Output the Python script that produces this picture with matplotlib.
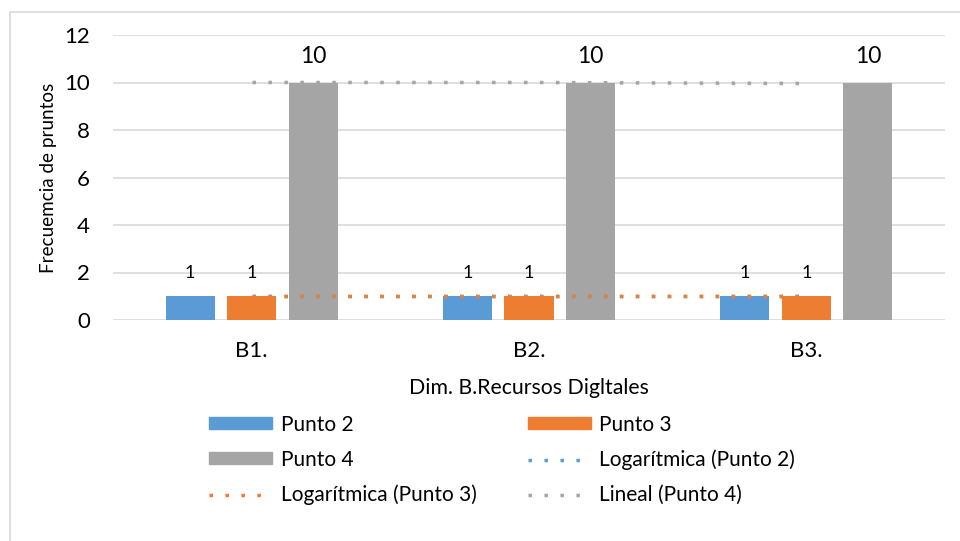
import matplotlib
matplotlib.use("Agg")
import matplotlib.pyplot as plt
from matplotlib.patches import Rectangle
from matplotlib.lines import Line2D
import numpy as np

plt.rcParams['font.family'] = ['Lato', 'DejaVu Sans']

categories = ["B1.", "B2.", "B3."]
punto2 = [1, 1, 1]
punto3 = [1, 1, 1]
punto4 = [10, 10, 10]
y_ticks = [0, 2, 4, 6, 8, 10, 12]

c_blue = "#5b9bd5"
c_orange = "#ed7d31"
c_gray = "#a5a5a5"
c_grid = "#d9d9d9"
c_text = "#000000"

fig = plt.figure(figsize=(9.6, 5.41), dpi=100)
ax = fig.add_axes([113 / 960, 1 - 320 / 541, (945 - 113) / 960, (320 - 35) / 541])

# chart outline
fig.patches.append(Rectangle((10 / 960, -0.1), 1.2, 1 - 12 / 541 + 0.1,
                             transform=fig.transFigure, fill=False,
                             edgecolor=c_grid, linewidth=1.2, zorder=0))

x = np.arange(len(categories))
w = 0.177
off = 0.222

b2 = ax.bar(x - off, punto2, w, color=c_blue, zorder=3)
b3 = ax.bar(x, punto3, w, color=c_orange, zorder=3)
b4 = ax.bar(x + off, punto4, w, color=c_gray, zorder=3)

# trendlines across category centres
def log_fit(vals):
    xs = np.arange(1, len(vals) + 1)
    a, b = np.polyfit(np.log(xs), vals, 1)
    return a * np.log(xs) + b

def lin_fit(vals):
    xs = np.arange(1, len(vals) + 1)
    a, b = np.polyfit(xs, vals, 1)
    return a * xs + b

dot = dict(linestyle=(0, (1, 3.6)), linewidth=2.5, dash_capstyle='butt', zorder=4)
ax.plot(x, log_fit(punto2), color=c_blue, **dot)
ax.plot(x, log_fit(punto3), color=c_orange, **dot)
ax.plot(x, lin_fit(punto4), color=c_gray, **dot)

for bars, vals, fs, pad in [(b2, punto2, 13, 23), (b3, punto3, 13, 23), (b4, punto4, 16.5, 26)]:
    for r, v in zip(bars, vals):
        ax.annotate(f"{v}", (r.get_x() + r.get_width() / 2, v), xytext=(0, pad),
                    textcoords="offset pixels", ha="center", va="center",
                    fontsize=fs, color=c_text)

ax.set_xlim(-0.5, len(categories) - 0.5)
ax.set_ylim(0, 12)
ax.set_yticks(y_ticks)
ax.set_xticks(x)
ax.set_xticklabels(categories)
ax.tick_params(axis='both', length=0, labelsize=16, colors=c_text)
ax.tick_params(axis='y', pad=16.5)
ax.tick_params(axis='x', pad=15)
ax.grid(axis='y', color=c_grid, linewidth=1.2, zorder=0)
ax.set_axisbelow(True)
for s in ax.spines.values():
    s.set_visible(False)

ax.set_ylabel("Frecuemcia de pruntos", fontsize=13.6, color=c_text, labelpad=5)
ax.set_xlabel("Dim. B.Recursos Digltales", fontsize=15.3, color=c_text, labelpad=12)

handles = [
    Rectangle((0, 0), 1, 1, color=c_blue),
    Rectangle((0, 0), 1, 1, color=c_gray),
    Line2D([], [], color=c_orange, **dot),
    Rectangle((0, 0), 1, 1, color=c_orange),
    Line2D([], [], color=c_blue, **dot),
    Line2D([], [], color=c_gray, **dot),
]
labels = ["Punto 2", "Punto 4", "Logarítmica (Punto 3)",
          "Punto 3", "Logarítmica (Punto 2)", "Lineal (Punto 4)"]
fig.legend(handles, labels, ncol=2, loc="upper left",
           bbox_to_anchor=(190 / 960, 1 - 396 / 541), frameon=False,
           fontsize=15, handlelength=3.05, handleheight=0.5,
           columnspacing=2.45, labelspacing=0.72, handletextpad=0.4)

fig.savefig("out.png", dpi=100)
